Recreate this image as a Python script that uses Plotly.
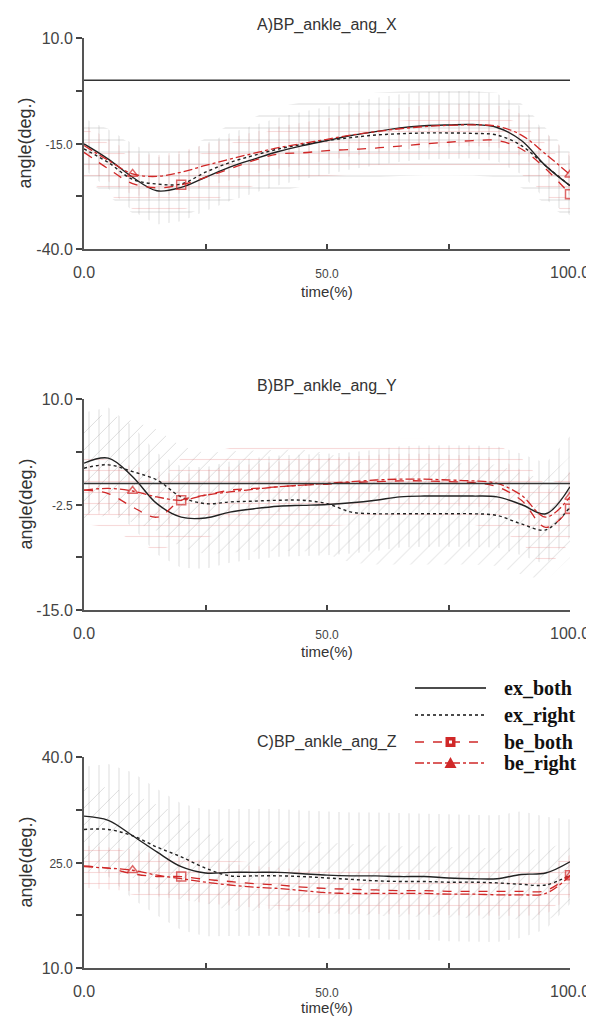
import plotly.graph_objects as go

# ---------------- data ----------------
time = [0, 5, 10, 15, 20, 25, 30, 35, 40, 45, 50, 55, 60, 65, 70, 75, 80, 85, 90, 95, 100]

# Panel A : BP_ankle_ang_X
a_ex_both = [-15.1, -18.7, -23.0, -26.2, -25.4, -23.0, -20.6, -18.7, -16.9, -15.5, -14.3,
             -13.1, -12.2, -11.3, -10.8, -10.6, -10.5, -11.2, -14.3, -20.3, -25.0]
a_ex_right = [-16.3, -19.5, -23.5, -24.6, -24.6, -21.8, -19.5, -17.8, -16.3, -15.2, -14.3,
              -13.6, -13.0, -12.7, -12.5, -12.5, -12.6, -13.0, -15.5, -20.3, -25.0]
a_be_both = [-17.1, -21.0, -24.5, -25.5, -24.8, -23.0, -21.0, -19.0, -17.5, -17.2, -16.7,
             -16.4, -16.1, -15.6, -15.1, -14.7, -14.3, -14.3, -16.3, -21.0, -27.0]
a_be_right = [-15.5, -19.0, -22.2, -22.8, -21.8, -20.2, -18.7, -17.3, -16.0, -15.0, -14.0,
              -13.0, -12.2, -11.5, -11.0, -10.7, -10.6, -10.9, -13.0, -17.5, -22.4]
a_ex_both_sd = [6, 7, 8, 8, 8, 8, 8, 8, 8, 8, 8, 8, 8, 8, 8, 8, 8, 8, 8, 8, 7]
a_ex_right_sd = [7, 8, 8, 8, 8, 8, 9, 9, 10, 10, 10, 10, 10, 10, 10, 10, 10, 10, 10, 9, 8]
a_be_both_sd = [6, 6, 6, 6, 6, 6, 6, 6, 6, 6, 6, 6, 6, 6, 6, 6, 6, 6, 6, 6, 6]
a_be_right_sd = [5, 5, 5, 5, 5, 5, 5, 5, 5, 5, 5, 5, 5, 5, 5, 5, 5, 5, 5, 5, 5]

# Panel B : BP_ankle_ang_Y
b_ex_both = [2.4, 3.0, 0.8, -2.4, -4.0, -4.1, -3.4, -3.0, -2.7, -2.6, -2.5,
             -2.3, -2.0, -1.6, -1.5, -1.5, -1.5, -1.6, -2.5, -3.6, -0.4]
b_ex_right = [1.8, 2.2, 1.4, 0.4, -1.6, -2.4, -2.2, -2.1, -2.0, -2.0, -2.4,
              -3.4, -3.6, -3.6, -3.6, -3.6, -3.6, -3.8, -4.8, -5.5, -2.8]
b_be_both = [-0.8, -1.2, -2.8, -4.0, -2.0, -1.4, -0.8, -0.6, -0.4, -0.2, -0.1,
             0.1, 0.2, 0.3, 0.3, 0.2, 0.1, -0.4, -2.0, -5.2, -3.0]
b_be_right = [-0.8, -0.6, -0.9, -1.6, -2.0, -1.4, -1.0, -0.7, -0.4, -0.2, 0.0,
              0.2, 0.4, 0.5, 0.5, 0.4, 0.3, 0.0, -1.4, -4.0, -1.6]
b_ex_both_sd = [6, 6, 6, 6, 6, 6, 6, 6, 6, 6, 6, 6, 6, 6, 6, 6, 6, 6, 6, 6, 6]
b_ex_right_sd = [6, 6, 6, 6, 6, 6, 6, 6, 6, 6, 6, 6, 6, 6, 6, 6, 6, 6, 6, 6, 6]
b_be_both_sd = [4, 4, 4, 4, 5, 5, 5, 5, 5, 5, 5, 5, 5, 5, 5, 5, 5, 5, 5, 5, 4]
b_be_right_sd = [3, 3, 3, 3, 3, 3, 3, 3, 3, 3, 3, 3, 3, 3, 3, 3, 3, 3, 3, 3, 3]

# Panel C : BP_ankle_ang_Z
c_ex_both = [31.6, 31.0, 28.8, 26.5, 24.4, 23.5, 23.6, 23.6, 23.6, 23.4, 23.2,
             23.1, 23.1, 23.0, 23.0, 22.8, 22.7, 22.7, 23.3, 23.5, 25.1]
c_ex_right = [29.7, 29.7, 28.8, 27.2, 25.8, 24.2, 23.1, 23.1, 23.1, 23.0, 22.8,
              22.6, 22.4, 22.3, 22.3, 22.2, 22.2, 22.1, 21.9, 21.8, 23.2]
c_be_both = [24.5, 24.2, 23.4, 23.0, 23.0, 22.6, 22.3, 22.0, 21.8, 21.5, 21.3,
             21.2, 21.1, 21.0, 21.0, 20.9, 20.9, 20.9, 20.9, 21.0, 23.2]
c_be_right = [24.4, 24.2, 23.9, 23.2, 22.7, 22.2, 21.8, 21.5, 21.3, 21.0, 20.7,
              20.6, 20.6, 20.6, 20.6, 20.5, 20.5, 20.4, 20.4, 20.6, 23.1]
c_ex_both_sd = [7, 8, 9, 9, 9, 9, 9, 9, 9, 9, 9, 9, 9, 9, 9, 9, 9, 9, 9, 8, 6]
c_ex_right_sd = [6, 6, 6, 6, 6, 5, 5, 5, 5, 5, 5, 5, 5, 5, 5, 5, 5, 5, 5, 5, 5]
c_be_both_sd = [3, 3, 3, 3, 3, 3, 3, 3, 3, 3, 3, 3, 3, 3, 3, 3, 3, 3, 3, 3, 3]
c_be_right_sd = [3, 3, 3, 3, 3, 3, 3, 3, 3, 3, 3, 3, 3, 3, 3, 3, 3, 3, 3, 3, 3]

series_names = ["ex_both", "ex_right", "be_both", "be_right"]
panel_titles = ["A)BP_ankle_ang_X", "B)BP_ankle_ang_Y", "C)BP_ankle_ang_Z"]
y_ranges = [(-40, 10), (-15, 10), (10, 40)]
y_tickvals = [[10, -2.5, -15, -27.5, -40], [10, 3.75, -2.5, -8.75, -15], [40, 32.5, 25, 17.5, 10]]
y_ticklabels = [["10.0", "", "-15.0", "", "-40.0"], ["10.0", "", "-2.5", "", "-15.0"],
                ["40.0", "", "25.0", "", "10.0"]]
x_tickvals = [0, 25, 50, 75, 100]
x_ticklabels = ["0.0", "", "50.0", "", "100.0"]
reference_level = 0.0
be_both_marker_at = [20, 100]
be_right_marker_at = [10, 100]

panels = [
    (a_ex_both, a_ex_right, a_be_both, a_be_right, a_ex_both_sd, a_ex_right_sd, a_be_both_sd, a_be_right_sd),
    (b_ex_both, b_ex_right, b_be_both, b_be_right, b_ex_both_sd, b_ex_right_sd, b_be_both_sd, b_be_right_sd),
    (c_ex_both, c_ex_right, c_be_both, c_be_right, c_ex_both_sd, c_ex_right_sd, c_be_both_sd, c_be_right_sd),
]

# ---------------- styling / layout (pixels) ----------------
W, H = 594, 1017
plot_px = [(30, 241), (391, 602), (749, 960)]
title_px = [17, 378, 734]
xlabel_px = [283, 643, 999]
x_px = (76, 562)
legend_rows_px = [680, 707, 734, 755]
legend_line_px = (407, 478)
legend_text_x = 494

RED = "#d02828"
GREY_HATCH = "rgba(150,150,150,0.65)"
PINK_HATCH = "rgba(225,120,120,0.55)"
SMALL = "<span style='font-size:12px'>%s</span>"
FONT = "Liberation Sans"

band_styles = [
    dict(shape="|", fgcolor=GREY_HATCH, size=10, solidity=0.1),
    dict(shape="-", fgcolor=GREY_HATCH, size=12, solidity=0.09),
    dict(shape="-", fgcolor=PINK_HATCH, size=11, solidity=0.1),
    dict(shape="|", fgcolor=PINK_HATCH, size=10, solidity=0.1),
]
diag_style = dict(shape="/", fgcolor=GREY_HATCH, size=12, solidity=0.08)


def px_x(p):
    return p / W


def px_y(p):
    return 1 - p / H


fig = go.Figure()
layout = dict(width=W, height=H, margin=dict(l=0, r=0, t=0, b=0, autoexpand=False),
              paper_bgcolor="white", plot_bgcolor="white", showlegend=False,
              font=dict(family=FONT, color="#333"))
annotations = []
shapes = []

for i, data in enumerate(panels):
    n = "" if i == 0 else str(i + 1)
    xa, ya = "x" + n, "y" + n
    means = data[:4]
    sds = data[4:]
    for j in range(4):
        m, s = means[j], sds[j]
        up = [a + b for a, b in zip(m, s)]
        lo = [a - b for a, b in zip(m, s)]
        style = band_styles[j]
        if j == 1 and i > 0:
            style = diag_style
        fig.add_trace(go.Scatter(x=time + time[::-1], y=up + lo[::-1], fill="toself",
                                 fillcolor="rgba(0,0,0,0)", fillpattern=style,
                                 line=dict(width=0), mode="lines", hoverinfo="skip",
                                 xaxis=xa, yaxis=ya))
    fig.add_trace(go.Scatter(x=time, y=means[0], mode="lines", name=series_names[0],
                             line=dict(color="#222", width=1.4, shape="spline"), xaxis=xa, yaxis=ya))
    fig.add_trace(go.Scatter(x=time, y=means[1], mode="lines", name=series_names[1],
                             line=dict(color="#222", width=1.4, dash="dot", shape="spline"), xaxis=xa, yaxis=ya))
    fig.add_trace(go.Scatter(x=time, y=means[2], mode="lines+markers", name=series_names[2],
                             line=dict(color=RED, width=1.3, dash="dash", shape="spline"),
                             marker=dict(symbol="square-open", color=RED, line=dict(width=1.5, color=RED),
                                         size=[9 if t in be_both_marker_at else 0 for t in time]),
                             xaxis=xa, yaxis=ya))
    fig.add_trace(go.Scatter(x=time, y=means[3], mode="lines+markers", name=series_names[3],
                             line=dict(color=RED, width=1.3, dash="dashdot", shape="spline"),
                             marker=dict(symbol="triangle-up-open", color=RED, line=dict(width=1.5, color=RED),
                                         size=[9 if t in be_right_marker_at else 0 for t in time]),
                             xaxis=xa, yaxis=ya))

    top, bot = plot_px[i]
    layout["xaxis" + n] = dict(domain=[px_x(x_px[0]), px_x(x_px[1])], anchor=ya, range=[0, 100],
                               tickvals=x_tickvals,
                               ticktext=[SMALL % t if t == "50.0" else t for t in x_ticklabels],
                               ticks="inside", ticklen=5, tickwidth=1.5, tickcolor="#444",
                               showline=True, linecolor="#555", linewidth=2, automargin=False,
                               showgrid=False, zeroline=False, ticklabelstandoff=8,
                               tickfont=dict(family=FONT, size=16, color="#444"))
    yt = y_ticklabels[i]
    layout["yaxis" + n] = dict(domain=[px_y(bot), px_y(top)], anchor=xa, range=list(y_ranges[i]),
                               tickvals=y_tickvals[i],
                               ticktext=[t if k in (0, 4) else (SMALL % t if t else t) for k, t in enumerate(yt)],
                               ticks="outside", ticklen=6, tickwidth=1.5, tickcolor="#444",
                               showline=True, linecolor="#555", linewidth=2, automargin=False,
                               showgrid=False, zeroline=False,
                               tickfont=dict(family=FONT, size=16, color="#444"))
    xc = px_x((x_px[0] + x_px[1]) / 2)
    annotations.append(dict(text=panel_titles[i], x=xc, y=px_y(title_px[i]), xref="paper", yref="paper",
                            showarrow=False, font=dict(family=FONT, size=16, color="#333"),
                            xanchor="center", yanchor="middle"))
    annotations.append(dict(text="time(%)", x=xc, y=px_y(xlabel_px[i]), xref="paper", yref="paper",
                            showarrow=False, font=dict(family=FONT, size=15, color="#333"),
                            xanchor="center", yanchor="middle"))
    annotations.append(dict(text="angle(deg.)", x=px_x(17), y=px_y((top + bot) / 2), xref="paper", yref="paper",
                            showarrow=False, textangle=-90, font=dict(family=FONT, size=18, color="#333"),
                            xanchor="center", yanchor="middle"))
    if y_ranges[i][0] < reference_level < y_ranges[i][1]:
        shapes.append(dict(type="line", xref=xa, yref=ya, x0=0, x1=100, y0=reference_level, y1=reference_level,
                           line=dict(color="#333", width=1.5)))

# ---------------- manual legend ----------------
legend_line_styles = [("#111", "solid"), ("#111", "dot"), (RED, "dash"), (RED, "dashdot")]
lx0, lx1 = legend_line_px
lxm = (lx0 + lx1) / 2
for k, name in enumerate(series_names):
    ry = legend_rows_px[k]
    col, dash = legend_line_styles[k]
    shapes.append(dict(type="line", xref="paper", yref="paper", x0=px_x(lx0), x1=px_x(lx1),
                       y0=px_y(ry), y1=px_y(ry), line=dict(color=col, width=1.5, dash=dash)))
    if k == 2:
        shapes.append(dict(type="rect", xref="paper", yref="paper", x0=px_x(lxm - 5), x1=px_x(lxm + 5),
                           y0=px_y(ry + 5), y1=px_y(ry - 5), fillcolor=RED, line=dict(width=0)))
        shapes.append(dict(type="rect", xref="paper", yref="paper", x0=px_x(lxm - 1.5), x1=px_x(lxm + 1.5),
                           y0=px_y(ry + 1.5), y1=px_y(ry - 1.5), fillcolor="white", line=dict(width=0)))
    if k == 3:
        path = "M %f %f L %f %f L %f %f Z" % (px_x(lxm - 6), px_y(ry + 5), px_x(lxm + 6), px_y(ry + 5),
                                              px_x(lxm), px_y(ry - 6))
        shapes.append(dict(type="path", xref="paper", yref="paper", path=path, fillcolor=RED,
                           line=dict(width=0)))
    annotations.append(dict(text="<b>%s</b>" % name, x=px_x(legend_text_x), y=px_y(ry), xref="paper",
                            yref="paper", showarrow=False, xanchor="left", yanchor="middle",
                            font=dict(family="Liberation Serif", size=20, color="#111")))

layout["annotations"] = annotations
layout["shapes"] = shapes
fig.update_layout(**layout)
fig.write_html("out.html")
